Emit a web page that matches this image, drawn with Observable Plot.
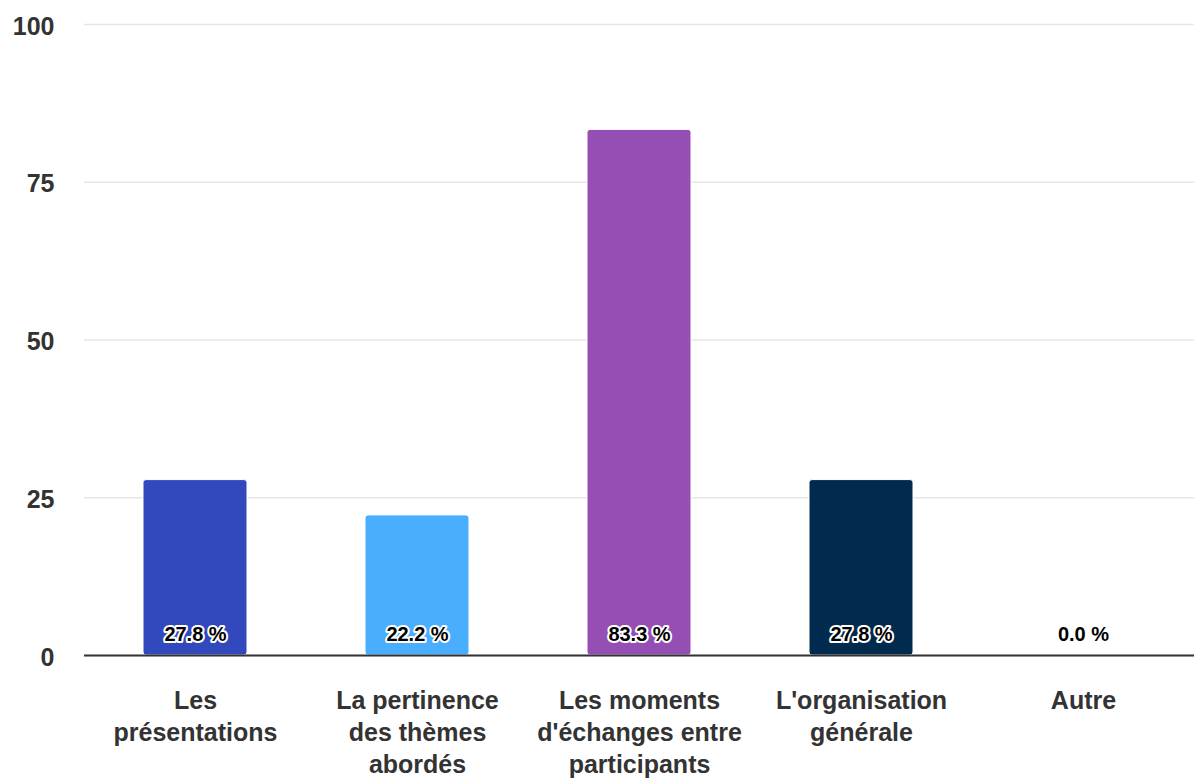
<!DOCTYPE html>
<html>
<head>
<meta charset="utf-8">
<script src="https://cdn.jsdelivr.net/npm/d3@7"></script>
<script src="https://cdn.jsdelivr.net/npm/@observablehq/plot@0.6"></script>
<style>
  html, body { margin: 0; padding: 0; background: #fff; }
  svg { display: block; }
</style>
</head>
<body>
<div id="chart"></div>
<script>
const categories = ["Les présentations", "La pertinence des thèmes abordés", "Les moments d'échanges entre participants", "L'organisation générale", "Autre"];
const wrappedLabels = ["Les\nprésentations", "La pertinence\ndes thèmes\nabordés", "Les moments\nd'échanges entre\nparticipants", "L'organisation\ngénérale", "Autre"];
const values = [27.8, 22.2, 83.3, 27.8, 0.0];
const colors = ["#3249bd", "#4aaefe", "#954fb4", "#002b4f", "#8bc34a"];
const yTicks = [0, 25, 50, 75, 100];

const data = categories.map((c, i) => ({cat: c, value: values[i], label: values[i].toFixed(1) + " %"}));
const labelOf = new Map(categories.map((c, i) => [c, wrappedLabels[i]]));

const chart = Plot.plot({
  width: 1194,
  height: 778,
  marginTop: 24,
  marginBottom: 123,
  marginLeft: 84,
  marginRight: 0,
  style: {fontFamily: "'Liberation Sans', Arial, Helvetica, sans-serif", color: "#333", background: "#fff"},
  x: {domain: categories, paddingInner: 0.53, paddingOuter: 0.265, label: null},
  y: {domain: [0, 100], label: null},
  color: {domain: categories, range: colors},
  marks: [
    Plot.gridY(yTicks, {stroke: "#e6e6e6", strokeOpacity: 1, strokeWidth: 1.5}),
    Plot.axisY(yTicks, {tickSize: 0, tickPadding: 30, fontSize: 25, fontWeight: "bold", fill: "#333", label: null, dy: 2}),
    Plot.axisX({tickSize: 0, tickPadding: 31, fontSize: 25, fontWeight: "bold", fill: "#333", label: null, lineHeight: 1.28, tickFormat: d => labelOf.get(d)}),
    Plot.barY(data, {x: "cat", y: "value", fill: "cat", stroke: "#fff", strokeWidth: 1, rx: 3}),
    Plot.ruleY([0], {stroke: "#333", strokeWidth: 2}),
    Plot.text(data, {x: "cat", y: 0, text: "label", dy: -21, fontSize: 20, fontWeight: "bold", fill: "#000", stroke: "#fff", strokeWidth: 4, paintOrder: "stroke", style: "letter-spacing:-0.6px"})
  ]
});
document.getElementById("chart").appendChild(chart);
</script>
</body>
</html>
